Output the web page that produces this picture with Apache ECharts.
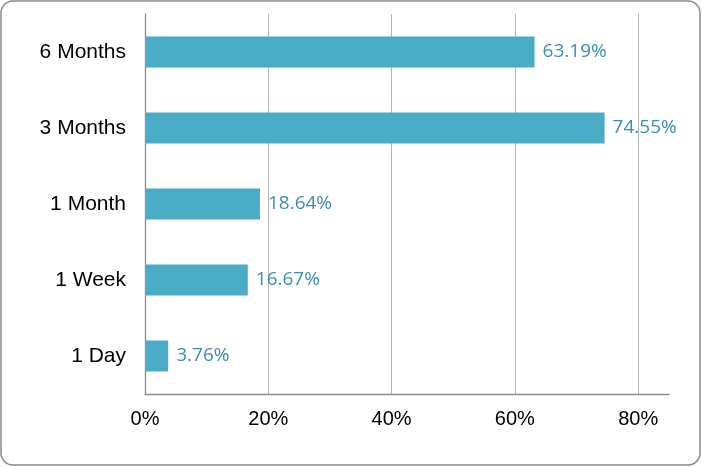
<!DOCTYPE html>
<html>
<head>
<meta charset="utf-8">
<script src="https://cdn.jsdelivr.net/npm/echarts@6/dist/echarts.min.js"></script>
<style>
  html, body { margin: 0; padding: 0; background: #fff; }
  #chart { width: 702px; height: 467px; }
</style>
</head>
<body>
<div id="chart"></div>
<script>
// categories bottom to top
var periods = ['1 Day', '1 Week', '1 Month', '3 Months', '6 Months'];
var shares = [3.76, 16.67, 18.64, 74.55, 63.19];
var tickValues = [0, 20, 40, 60, 80];

var axisMax = 85;
var plotLeft = 145, plotWidth = 524;

var chart = echarts.init(document.getElementById('chart'));
var option = {
  animation: false,
  backgroundColor: '#fff',
  graphic: [{
    type: 'rect',
    shape: { x: 1, y: 1, width: 699, height: 464, r: 12 },
    style: { fill: 'none', stroke: '#8a8a8a', lineWidth: 1.5 },
    z: 100
  }],
  grid: [
    { left: plotLeft, width: plotWidth, top: 14, bottom: 73 },
    // grid only for the 0..80 gridlines and labels
    { left: plotLeft, width: plotWidth * tickValues[tickValues.length - 1] / axisMax, top: 14, bottom: 73 }
  ],
  xAxis: [{
    type: 'value',
    gridIndex: 0,
    min: 0,
    max: axisMax,
    axisLine: { show: true, lineStyle: { color: '#8c8c8c', width: 1.3 } },
    axisTick: { show: false },
    axisLabel: { show: false },
    splitLine: { show: false }
  }, {
    type: 'value',
    gridIndex: 1,
    min: 0,
    max: tickValues[tickValues.length - 1],
    interval: 20,
    axisLine: { show: false },
    axisTick: { show: false },
    axisLabel: {
      formatter: '{value}%',
      color: '#000',
      fontFamily: 'Liberation Sans',
      fontSize: 20,
      margin: 15
    },
    splitLine: { show: true, lineStyle: { color: '#b3b3b3', width: 1 } }
  }],
  yAxis: [{
    type: 'category',
    gridIndex: 0,
    data: periods,
    axisLine: { show: true, lineStyle: { color: '#8c8c8c', width: 1.3 } },
    axisTick: { show: false },
    axisLabel: {
      color: '#000',
      fontFamily: 'Liberation Sans',
      fontSize: 21,
      margin: 19
    }
  }, {
    type: 'category',
    gridIndex: 1,
    data: periods,
    show: false
  }],
  series: [{
    type: 'bar',
    xAxisIndex: 0,
    yAxisIndex: 0,
    data: shares,
    barWidth: 31,
    itemStyle: { color: '#4bacc6' },
    label: {
      show: true,
      position: 'right',
      distance: 8,
      formatter: function (p) { return p.value.toFixed(2) + '%'; },
      color: '#3b8fae',
      fontFamily: 'Open Sans',
      fontSize: 19
    }
  }]
};
chart.setOption(option);
</script>
</body>
</html>
